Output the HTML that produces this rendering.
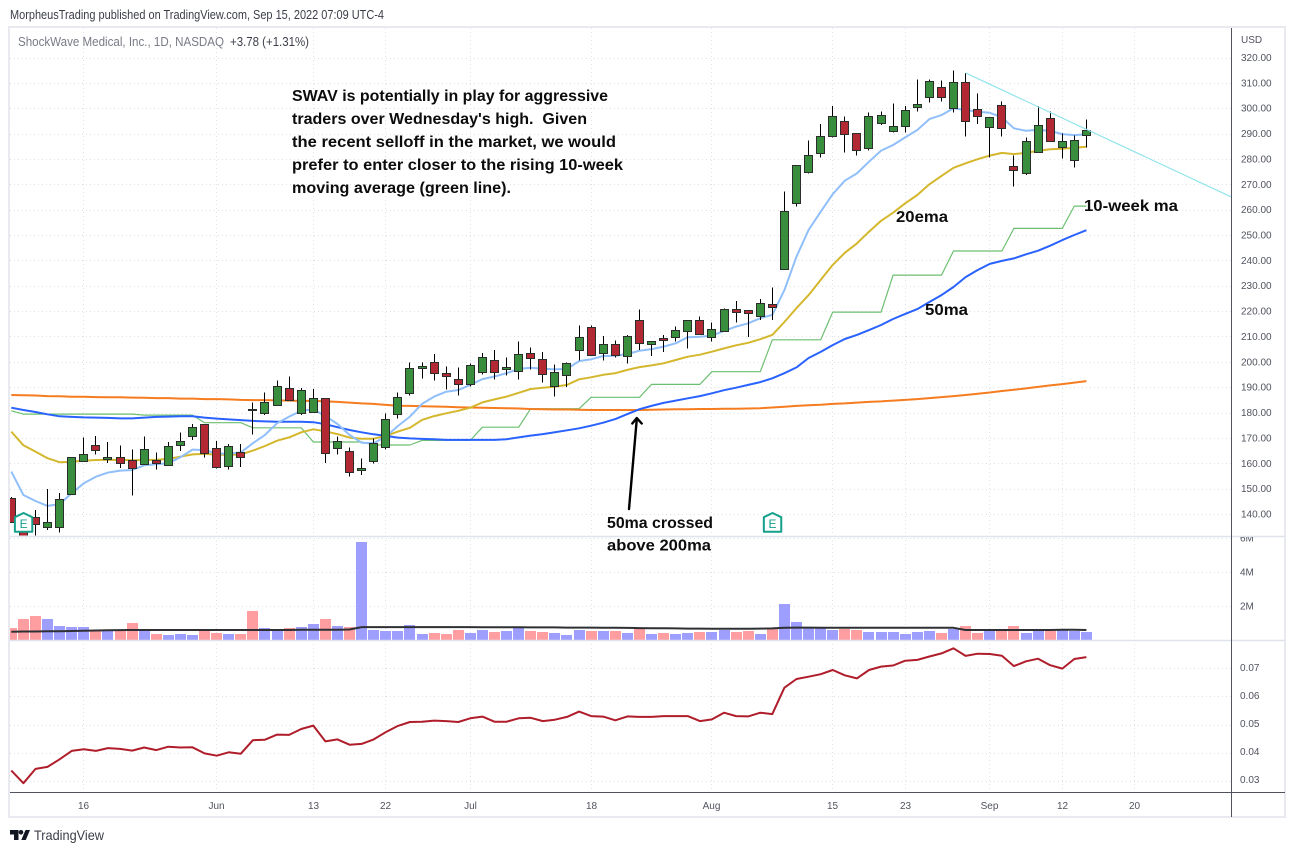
<!DOCTYPE html>
<html lang="en">
<head>
<meta charset="utf-8">
<title>SWAV chart</title>
<style>
html,body{margin:0;padding:0;background:#fff;width:1295px;height:853px;overflow:hidden}
svg{display:block;font-family:"Liberation Sans",sans-serif}
.note{font-weight:bold;font-size:16px;fill:#0c0c0c}
.tick{font-size:10px;fill:#50535e}
</style>
</head>
<body>
<svg id="chart" xmlns="http://www.w3.org/2000/svg" width="1295" height="853" viewBox="0 0 1295 853">
  <defs>
    <clipPath id="clip-main"><rect x="10" y="28" width="1221" height="507.5"/></clipPath>
    <clipPath id="clip-vol"><rect x="10" y="537" width="1221" height="103"/></clipPath>
    <clipPath id="clip-ratio"><rect x="10" y="641" width="1221" height="151"/></clipPath>
    <clipPath id="clip-voltick"><rect x="1232" y="537" width="52" height="103"/></clipPath>
  </defs>
  <text x="10" y="19" font-size="13" fill="#3b3e48" textLength="374" lengthAdjust="spacingAndGlyphs">MorpheusTrading published on TradingView.com, Sep 15, 2022 07:09 UTC-4</text>

  <g id="grid"></g>

  <g id="main-pane" clip-path="url(#clip-main)"></g>
  <g id="vol-pane" clip-path="url(#clip-vol)"></g>
  <g id="ratio-pane" clip-path="url(#clip-ratio)"></g>

  <g fill="none">
    <rect x="9" y="27" width="1276" height="790" stroke="#e9eaf0" stroke-width="2"/>
    <line x1="10" y1="536.5" x2="1285" y2="536.5" stroke="#e0e3eb" stroke-width="1.5"/>
    <line x1="10" y1="640.5" x2="1285" y2="640.5" stroke="#e0e3eb" stroke-width="1.5"/>
    <line x1="10" y1="792.5" x2="1285" y2="792.5" stroke="#50535e" stroke-width="1"/>
    <line x1="1231.5" y1="28" x2="1231.5" y2="817" stroke="#50535e" stroke-width="1"/>
  </g>

  <g id="axis-labels"></g>
  <text x="1241" y="43" class="tick">USD</text>

  <text x="18" y="46" font-size="12.5" fill="#787b86" textLength="206" lengthAdjust="spacingAndGlyphs">ShockWave Medical, Inc., 1D, NASDAQ</text>
  <text x="230" y="46" font-size="12.5" fill="#3b3e48" textLength="79" lengthAdjust="spacingAndGlyphs">+3.78 (+1.31%)</text>

  <g>
    <text class="note" x="292" y="101" textLength="316" lengthAdjust="spacingAndGlyphs">SWAV is potentially in play for aggressive</text>
    <text class="note" x="292" y="124" textLength="295" lengthAdjust="spacingAndGlyphs" style="white-space:pre">traders over Wednesday's high.  Given</text>
    <text class="note" x="292" y="147" textLength="324" lengthAdjust="spacingAndGlyphs">the recent selloff in the market, we would</text>
    <text class="note" x="292" y="170" textLength="331" lengthAdjust="spacingAndGlyphs">prefer to enter closer to the rising 10-week</text>
    <text class="note" x="292" y="193" textLength="219" lengthAdjust="spacingAndGlyphs">moving average (green line).</text>
  </g>
  <text class="note" x="896" y="222" textLength="52" lengthAdjust="spacingAndGlyphs">20ema</text>
  <text class="note" x="1084" y="211" textLength="94" lengthAdjust="spacingAndGlyphs">10-week ma</text>
  <text class="note" x="925" y="315" textLength="43" lengthAdjust="spacingAndGlyphs">50ma</text>
  <text class="note" x="607" y="528" textLength="106" lengthAdjust="spacingAndGlyphs">50ma crossed</text>
  <text class="note" x="607" y="550.5" textLength="104" lengthAdjust="spacingAndGlyphs">above 200ma</text>

  <g stroke="#000" stroke-width="2.4" fill="none" stroke-linecap="round" stroke-linejoin="round">
    <line x1="629" y1="509" x2="636.8" y2="419"/>
    <polyline points="632.3,423.5 636.8,418 641.7,423.5"/>
  </g>

  <g>
    <polygon points="10,830 18.5,830 18.5,840 14,840 14,834.5 10,834.5" fill="#131722"/>
    <circle cx="21" cy="832.3" r="2.3" fill="#131722"/>
    <polygon points="25.5,830 30,830 25.8,840 21.3,840" fill="#131722"/>
    <text x="34" y="840" font-size="14" fill="#3b3e48" textLength="70" lengthAdjust="spacingAndGlyphs">TradingView</text>
  </g>
</svg>
<script>
const opens = [146.3,138.4,139.0,134.7,135.0,147.8,160.8,167.1,161.6,162.4,
161.2,159.8,161.2,159.2,167.1,170.6,175.4,165.9,158.8,164.3,
181.3,179.7,182.9,189.6,179.7,180.1,185.6,165.9,164.7,157.2,
160.8,166.3,179.3,187.6,197.7,199.8,195.5,193.1,191.1,195.9,
200.6,197.0,196.3,203.4,201.0,190.3,194.7,204.6,213.6,203.4,
206.9,202.2,216.4,206.9,209.3,209.7,212.0,216.4,209.7,212.0,
220.7,220.3,217.9,222.7,236.5,262.5,274.7,282.2,288.9,294.8,
290.1,284.2,294.1,290.9,292.9,300.4,304.3,308.2,300.0,310.2,
299.6,292.5,301.2,277.1,274.3,282.6,296.0,284.6,279.5,289.3];
const closes = [136.8,131.3,136.0,136.7,145.8,162.4,163.5,165.1,162.4,160.0,
158.0,165.5,160.2,166.7,168.6,174.2,163.9,158.4,166.7,162.4,
181.1,184.0,190.4,184.8,188.8,185.6,163.9,168.6,156.4,158.0,
167.9,177.3,186.0,197.4,198.2,195.5,194.3,191.1,198.6,201.8,
195.9,197.8,203.0,201.4,195.1,195.9,199.4,209.7,202.6,206.9,
202.6,210.1,207.3,208.1,208.5,212.4,216.4,210.9,212.8,220.7,
219.5,219.1,223.1,221.5,259.4,277.5,281.4,288.9,296.8,289.7,
283.4,296.8,297.2,292.9,299.2,301.5,310.6,304.3,310.2,294.8,
296.8,296.4,292.1,275.5,286.9,293.3,286.9,286.9,287.4,291.3];
const highs = [146.7,138.8,141.6,149.8,148.3,162.4,170.2,170.7,168.3,167.1,
165.5,170.6,164.3,168.3,172.2,175.4,175.4,168.7,167.5,167.5,
184.0,188.0,192.7,194.3,189.6,189.2,185.6,170.6,166.3,161.9,
169.8,179.7,188.0,199.8,199.8,203.0,198.2,197.8,199.4,203.4,
204.6,201.8,208.1,205.7,203.8,199.0,199.8,214.4,214.4,210.1,
208.5,210.5,220.7,208.1,210.5,214.0,216.4,217.9,215.6,221.1,
223.9,220.3,224.7,229.4,267.2,277.5,287.3,293.7,300.8,296.8,
290.1,298.4,298.8,301.9,300.8,311.4,311.4,311.0,314.9,313.8,
305.9,296.4,302.7,281.4,288.5,300.8,298.8,290.1,289.3,295.6];
const lows = [136.4,131.3,131.3,133.7,132.6,147.8,160.8,163.4,160.2,158.1,
147.2,159.3,157.5,159.2,164.8,169.2,162.2,157.9,157.5,158.6,
171.4,179.1,182.9,184.8,179.1,180.1,160.2,163.4,154.7,155.4,
160.0,165.5,177.7,186.8,193.4,192.6,189.0,186.8,190.3,195.0,
193.1,194.7,193.1,197.0,191.9,186.4,190.0,200.6,202.6,200.6,
201.8,199.4,204.6,202.2,203.8,208.1,205.3,210.5,208.1,212.0,
215.6,209.7,216.4,216.4,236.5,261.3,274.3,280.6,288.5,282.6,
281.4,283.4,293.3,290.5,290.5,298.8,302.3,302.7,298.4,288.9,
293.7,280.6,288.9,269.2,273.6,282.6,286.9,280.1,276.7,284.6];

const ema10 = [156.7,147.5,145.1,143.2,143.9,148.2,152.1,154.7,156.3,157.1,
157.3,159.2,159.6,160.0,162.4,165.4,165.2,163.9,163.7,164.3,
167.9,171.2,175.8,178.4,180.7,181.3,178.6,175.5,171.2,168.1,
167.9,170.5,174.7,178.4,183.4,186.3,188.2,188.9,190.9,193.2,
194.2,195.5,197.2,197.7,197.3,197.0,197.2,200.3,201.0,202.3,
202.4,203.1,204.4,205.0,206.0,207.3,209.7,209.9,210.3,212.2,
213.9,215.2,217.2,218.5,228.3,241.5,252.0,259.2,266.1,271.4,
274.3,278.9,283.3,285.5,288.5,291.4,295.7,297.3,300.0,299.3,
298.6,298.2,296.4,292.1,291.1,291.5,291.0,289.8,289.4,289.7];
const ema20 = [172.5,167.1,164.6,162.0,160.4,160.6,161.0,161.3,161.4,161.3,
161.2,161.3,161.4,161.7,162.6,163.5,163.7,163.4,163.3,163.5,
165.0,166.8,168.9,170.2,172.2,173.4,172.6,171.5,170.1,169.7,
169.7,170.8,172.5,174.0,177.1,178.6,179.7,180.7,181.9,184.0,
185.2,186.3,187.8,189.3,189.8,190.2,190.9,193.1,193.9,194.9,
195.5,196.8,197.9,198.6,199.4,200.7,202.0,202.8,204.0,205.3,
206.5,207.5,208.9,210.6,215.7,221.2,226.3,232.3,238.2,243.0,
246.7,251.3,255.6,258.8,262.5,265.8,270.0,273.3,276.5,278.3,
279.9,281.3,282.4,281.9,282.4,283.2,283.8,284.0,284.4,284.8];
const ma10Week = [180.7,179.4,179.4,179.4,179.4,179.4,179.4,179.4,179.4,179.4,
179.4,179.0,179.0,179.0,179.0,179.0,176.0,176.0,176.0,176.0,
174.0,174.0,174.0,174.0,174.0,168.4,168.4,168.4,168.4,168.4,
167.2,167.2,167.2,167.2,169.0,169.0,169.0,169.0,169.0,174.2,
174.2,174.2,174.2,181.5,181.5,181.5,181.5,181.5,186.0,186.0,
186.0,186.0,186.0,191.1,191.1,191.1,191.1,191.1,196.1,196.1,
196.1,196.1,196.1,208.7,208.7,208.7,208.7,208.7,219.6,219.6,
219.6,219.6,219.6,234.2,234.2,234.2,234.2,234.2,243.7,243.7,
243.7,243.7,243.7,252.6,252.6,252.6,252.6,252.6,261.4,261.4];
const ma50 = [181.9,181.0,180.2,179.3,178.5,178.3,178.1,178.0,177.9,177.7,
177.7,178.0,178.3,178.4,178.5,178.5,178.0,177.6,177.3,177.0,
176.7,176.5,176.4,176.4,176.4,176.2,175.4,174.2,173.1,172.2,
171.4,170.8,170.1,169.8,169.6,169.5,169.2,169.2,169.2,169.2,
169.2,169.5,170.2,170.9,171.5,172.2,173.0,173.8,174.8,176.0,
177.4,179.4,181.3,182.6,183.8,184.7,185.6,186.5,187.6,188.8,
189.8,190.9,192.0,193.5,195.5,197.8,201.5,203.9,206.6,209.0,
210.6,212.5,214.5,216.9,218.9,220.8,223.6,226.3,229.5,233.4,
236.2,238.6,239.8,240.8,242.4,243.8,245.8,248.0,250.0,251.9];
const ma200 = [186.9,186.8,186.7,186.5,186.4,186.2,186.2,186.1,186.0,186.0,
185.9,185.8,185.7,185.7,185.5,185.5,185.3,185.3,185.2,185.0,
184.9,184.9,184.8,184.7,184.6,184.6,184.4,184.2,183.9,183.6,
183.4,183.0,182.7,182.6,182.5,182.4,182.3,182.1,182.0,181.9,
181.8,181.7,181.6,181.4,181.3,181.2,181.2,181.1,181.0,181.0,
181.0,181.0,181.0,181.1,181.2,181.3,181.3,181.4,181.4,181.5,
181.5,181.6,181.7,182.0,182.3,182.6,182.9,183.1,183.4,183.6,
183.9,184.2,184.4,184.7,185.0,185.3,185.7,186.1,186.5,186.9,
187.4,187.9,188.5,189.0,189.5,190.1,190.7,191.2,191.8,192.4];

const volumes = [0.71,1.24,1.41,1.24,0.82,0.76,0.76,0.59,0.53,0.53,
1.00,0.53,0.35,0.29,0.35,0.29,0.59,0.41,0.35,0.35,
1.71,0.71,0.65,0.71,0.76,0.94,1.24,0.82,0.76,5.76,
0.59,0.53,0.53,0.88,0.35,0.41,0.35,0.59,0.41,0.59,
0.47,0.53,0.71,0.53,0.47,0.41,0.29,0.59,0.53,0.53,
0.53,0.41,0.65,0.35,0.41,0.35,0.41,0.47,0.47,0.59,
0.47,0.53,0.35,0.71,2.12,1.06,0.76,0.76,0.59,0.65,
0.59,0.47,0.47,0.47,0.35,0.47,0.53,0.41,0.65,0.82,
0.41,0.59,0.53,0.82,0.41,0.59,0.53,0.59,0.53,0.47];
const volumeMa = [0.49,0.50,0.50,0.51,0.52,0.53,0.54,0.56,0.57,0.58,
0.59,0.59,0.59,0.59,0.59,0.59,0.59,0.59,0.59,0.59,
0.59,0.59,0.59,0.59,0.60,0.60,0.60,0.60,0.62,0.76,
0.76,0.76,0.76,0.76,0.76,0.76,0.76,0.76,0.76,0.75,
0.75,0.75,0.75,0.74,0.74,0.74,0.73,0.73,0.73,0.72,
0.72,0.71,0.70,0.69,0.69,0.68,0.67,0.67,0.66,0.66,
0.66,0.66,0.67,0.68,0.72,0.73,0.73,0.72,0.72,0.72,
0.72,0.72,0.72,0.72,0.72,0.72,0.72,0.72,0.72,0.59,
0.59,0.59,0.59,0.59,0.59,0.59,0.59,0.60,0.60,0.59];
const ratioValues = [0.0336,0.0291,0.0342,0.0349,0.0376,0.0406,0.0412,0.0406,0.0416,0.0413,
0.0407,0.0418,0.0409,0.0421,0.0418,0.0419,0.0397,0.0389,0.0401,0.0396,
0.0444,0.0446,0.0464,0.0463,0.0484,0.0496,0.0440,0.0447,0.0428,0.0431,
0.0447,0.0473,0.0495,0.0509,0.0510,0.0514,0.0512,0.0509,0.0522,0.0528,
0.0510,0.0510,0.0522,0.0524,0.0512,0.0517,0.0527,0.0546,0.0530,0.0528,
0.0515,0.0529,0.0527,0.0527,0.0530,0.0530,0.0530,0.0512,0.0518,0.0542,
0.0530,0.0529,0.0542,0.0537,0.0631,0.0662,0.0670,0.0679,0.0694,0.0675,
0.0664,0.0694,0.0706,0.0710,0.0727,0.0730,0.0742,0.0753,0.0771,0.0744,
0.0752,0.0751,0.0745,0.0708,0.0725,0.0734,0.0711,0.0699,0.0733,0.0740];

const priceTicks = [320,310,300,290,280,270,260,250,240,230,220,210,200,190,180,170,160,150,140];
const volumeTicks = [6,4,2];
const ratioTicks = [0.07,0.06,0.05,0.04,0.03];
const timeTickLabels = ['16','Jun','13','22','Jul','18','Aug','15','23','Sep','12','20'];
const timeTickIndex = [6,17,25,31,38,48,58,68,74,81,87,93];
const trendIndex = [79,101];
const trendPrice = [313.9,265.0];
const earningsIndex = [1,63];

const NS = 'http://www.w3.org/2000/svg';
function xAt(i){ return 11.3 + 12.08 * i; }
function yPrice(p){ return 57.5 + (320 - p) * 2.536; }
function yVol(v){ return 640 - 17 * v; }
function yRatio(r){ return 668.3 + (0.07 - r) * 2810; }
function make(tag, parent, attrs){
  const el = document.createElementNS(NS, tag);
  for (const k in attrs) el.setAttribute(k, attrs[k]);
  parent.appendChild(el);
  return el;
}
function points(series, yFn){
  return series.map(function(v, i){ return xAt(i).toFixed(1) + ',' + yFn(v).toFixed(1); }).join(' ');
}
const grid = document.getElementById('grid');
const main = document.getElementById('main-pane');
const volPane = document.getElementById('vol-pane');
const ratioPane = document.getElementById('ratio-pane');
const axisLabels = document.getElementById('axis-labels');
const gridStyle = {stroke:'#dfe1e8','stroke-width':1,'stroke-dasharray':'1 3',fill:'none'};

function hGrid(y){
  const a = Object.assign({x1:10,x2:1231,y1:Math.round(y)+0.5,y2:Math.round(y)+0.5}, gridStyle);
  const el = make('line', grid, a);
  
  
}
priceTicks.forEach(function(p){
  hGrid(yPrice(p));
  const t = make('text', axisLabels, {x:1241,y:yPrice(p)+3.5,'class':'tick'});
  t.textContent = p.toFixed(2);
  
  
});
const volClip = make('g', axisLabels, {'clip-path':'url(#clip-voltick)'});
volumeTicks.forEach(function(v){
  hGrid(yVol(v));
  const t = make('text', volClip, {x:1240,y:yVol(v)+3.5,'class':'tick'});
  t.textContent = v + 'M';
  
  
});
ratioTicks.forEach(function(r){
  hGrid(yRatio(r));
  const t = make('text', axisLabels, {x:1240,y:yRatio(r)+2.5,'class':'tick'});
  t.textContent = r.toFixed(2);
  
  
});
timeTickLabels.forEach(function(label, k){
  const x = Math.floor(xAt(timeTickIndex[k])) + 0.5;
  const g = make('line', grid, Object.assign({x1:x,x2:x,y1:28,y2:792}, gridStyle));
  
  
  const t = make('text', axisLabels, {x:x,y:809,'class':'tick','text-anchor':'middle'});
  t.textContent = label;
  
  
});

function addLine(parent, series, yFn, color, width){
  return make('polyline', parent, {points:points(series, yFn),fill:'none',stroke:color,'stroke-width':width,'stroke-linejoin':'round'});
}
const lineGreen = addLine(main, ma10Week, yPrice, '#6cbf70', 1.2);


const lineOrange = addLine(main, ma200, yPrice, '#f57c1f', 2);


const lineBlue = addLine(main, ma50, yPrice, '#2962ff', 2);


const lineYellow = addLine(main, ema20, yPrice, '#d4b72c', 2);


const lineLight = addLine(main, ema10, yPrice, '#90bff9', 2);



opens.forEach(function(o, i){
  const c = closes[i];
  const cx = Math.floor(xAt(i));
  const up = c >= o;
  const g = make('g', main, {'shape-rendering':'crispEdges'});
  
  
  make('rect', g, {x:cx,y:yPrice(highs[i]),width:1,height:yPrice(lows[i])-yPrice(highs[i]),fill:'#000'});
  const top = Math.round(yPrice(Math.max(o, c)));
  const bot = Math.round(yPrice(Math.min(o, c)));
  make('rect', g, {x:cx-3.5,y:top+0.5,width:8,height:Math.max(bot-top,1),fill:up?'#388e3c':'#b22833',stroke:'#2b2f2c','stroke-width':1});
});

const trend = make('line', main, {x1:xAt(trendIndex[0]),y1:yPrice(trendPrice[0]),x2:xAt(trendIndex[1]),y2:yPrice(trendPrice[1]),stroke:'#93e4ec','stroke-width':1.2});



earningsIndex.forEach(function(idx){
  const cx = xAt(idx) + 0.2;
  const g = make('g', main, {});
  
  
  const cy = 522.5;
  make('path', g, {d:'M'+(cx-8.7)+' '+(cy-5.3)+' L'+cx+' '+(cy-9.5)+' L'+(cx+8.7)+' '+(cy-5.3)+' L'+(cx+8.7)+' '+(cy+9.2)+' L'+(cx-8.7)+' '+(cy+9.2)+' Z',fill:'#fff',stroke:'#14a08b','stroke-width':2,'stroke-linejoin':'round'});
  const t = make('text', g, {x:cx,y:cy+5.5,'text-anchor':'middle','font-size':12,fill:'#14a08b'});
  t.textContent = 'E';
});

volumes.forEach(function(v, i){
  const up = closes[i] >= opens[i];
  const cx = Math.floor(xAt(i));
  const top = Math.round(yVol(v));
  const b = make('rect', volPane, {x:cx-5,y:top,width:11,height:640-top,fill:up?'#9e9eff':'#ff9ea1','shape-rendering':'crispEdges'});
  
  
});
const volLine = addLine(volPane, volumeMa, yVol, '#2f3033', 2);



const ratioLine = addLine(ratioPane, ratioValues, yRatio, '#b01d2a', 2);


</script>
</body>
</html>
